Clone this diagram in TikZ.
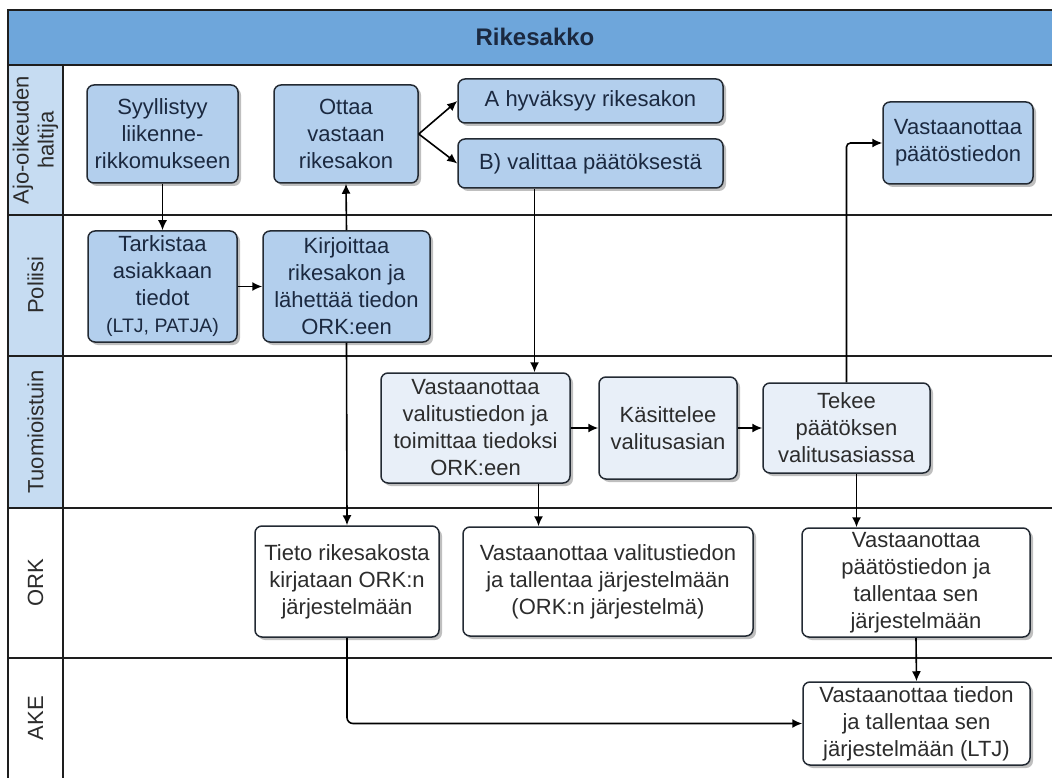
\documentclass[tikz,border=0pt]{standalone}
\usepackage{fontspec}
\setmainfont{Liberation Sans}
\usetikzlibrary{arrows.meta,shadows,calc}

\definecolor{titlebar}{HTML}{6EA6DB}
\definecolor{lanehead}{HTML}{C6DCF2}
\definecolor{boxblue}{HTML}{B3CFED}
\definecolor{boxpale}{HTML}{E8EFF8}
\definecolor{boxline}{HTML}{232A33}
\definecolor{navytext}{HTML}{1B2940}
\definecolor{darktext}{HTML}{2C2C2C}
\definecolor{frameline}{HTML}{1E1E1E}

\newcommand\boxfont{\fontsize{22}{27}\selectfont}
\newcommand\smallboxfont{\fontsize{19.5}{27}\selectfont}
\newcommand\lanefont{\fontsize{22}{25}\selectfont}

\tikzset{
  frame/.style={draw=frameline, line width=1.8pt},
  box/.style={draw=boxline, line width=1.5pt, rounded corners=7pt,
    align=center, inner sep=1pt, font=\boxfont,
    drop shadow={shadow xshift=3pt, shadow yshift=-3pt, opacity=0.25, fill=black}},
  bluebox/.style={box, fill=boxblue, text=navytext},
  palebox/.style={box, fill=boxpale, text=darktext},
  plainbox/.style={box, fill=white, text=darktext},
  lanelabel/.style={rotate=90, align=center, font=\lanefont, text=darktext},
  arr/.style={-{Latex[length=10pt,width=9pt]}, line width=1.6pt, draw=black},
}

\begin{document}
\begin{tikzpicture}[x=1pt, y=-1pt]
\useasboundingbox (0,0) rectangle (1052,778);
\fill[white] (0,0) rectangle (1052,778);

% title bar and lane header column
\fill[titlebar] (8,10) rectangle (1052,65);
\fill[lanehead] (8,65) rectangle (63,508);
\node[font=\fontsize{24}{28}\selectfont\bfseries, text=navytext] (title) at (535,37) {Rikesakko};

% swimlane frame
\draw[frame] (8,778) -- (8,10) -- (1052,10);
\draw[frame] (8,65) -- (1052,65);
\draw[frame] (63,65) -- (63,778);
\draw[frame] (8,215) -- (1052,215);
\draw[frame] (8,356) -- (1052,356);
\draw[frame] (8,508) -- (1052,508);
\draw[frame] (8,658) -- (1052,658);

% lane names
\node[lanelabel] (laneA) at (35.5,140) {Ajo-oikeuden\\haltija};
\node[lanelabel] (laneP) at (35.5,285) {Poliisi};
\node[lanelabel] (laneT) at (35.5,432) {Tuomioistuin};
\node[lanelabel] (laneO) at (35.5,583) {ORK};
\node[lanelabel] (laneK) at (35.5,718) {AKE};

% driver lane
\node[bluebox, minimum width=151pt, minimum height=98pt] (syy) at (162.5,134)
  {Syyllistyy\\liikenne-\\rikkomukseen};
\node[bluebox, minimum width=144pt, minimum height=98pt] (ottaa) at (346,134)
  {Ottaa\\vastaan\\rikesakon};
\node[bluebox, minimum width=265pt, minimum height=44pt] (hyv) at (590.5,101)
  {A hyväksyy rikesakon};
\node[bluebox, minimum width=265pt, minimum height=49pt] (val) at (590.5,163.5)
  {B) valittaa päätöksestä};
\node[bluebox, minimum width=150pt, minimum height=82pt] (vpt) at (958,143)
  {Vastaanottaa\\päätöstiedon};

% police lane
\node[bluebox, minimum width=149pt, minimum height=111pt] (tark) at (162.5,286.5)
  {Tarkistaa\\asiakkaan\\tiedot\\{\smallboxfont(LTJ, PATJA)}};
\node[bluebox, minimum width=167pt, minimum height=111pt] (kirj) at (346.5,286.5)
  {Kirjoittaa\\rikesakon ja\\lähettää tiedon\\ORK:een};

% court lane
\node[palebox, minimum width=189pt, minimum height=110pt] (vvt) at (475.5,428)
  {Vastaanottaa\\valitustiedon ja\\toimittaa tiedoksi\\ORK:een};
\node[palebox, minimum width=138pt, minimum height=102pt] (kas) at (668,428)
  {Käsittelee\\valitusasian};
\node[palebox, minimum width=167pt, minimum height=90pt] (tek) at (846.5,428)
  {Tekee\\päätöksen\\valitusasiassa};

% ORK lane
\node[plainbox, minimum width=184pt, minimum height=111pt] (tieto) at (347,581.5)
  {Tieto rikesakosta\\kirjataan ORK:n\\järjestelmään};
\node[plainbox, minimum width=290pt, minimum height=109pt] (vvo) at (608,581.5)
  {Vastaanottaa valitustiedon\\ja tallentaa järjestelmään\\(ORK:n järjestelmä)};
\node[plainbox, minimum width=228pt, minimum height=109pt] (vpo) at (916,582.5)
  {Vastaanottaa\\päätöstiedon ja\\tallentaa sen\\järjestelmään};

% AKE lane
\node[plainbox, minimum width=227pt, minimum height=83pt] (vti) at (916.5,723.5)
  {Vastaanottaa tiedon\\ja tallentaa sen\\järjestelmään (LTJ)};

% flow
\draw[arr] (syy.south) -- (tark.north);
\draw[arr] (tark.east) -- (kirj.west);
\draw[arr] (kirj.north) -- (ottaa.south);
\draw[arr] (ottaa.east) -- (hyv.west);
\draw[arr] (ottaa.east) -- (val.west);
\draw[arr] ([xshift=-56pt]val.south) -- ([xshift=-56pt]val.south |- vvt.north);
\draw[arr] (kirj.south) -- (tieto.north);
\draw[arr] (vvt.east) -- (kas.west);
\draw[arr] (kas.east) -- (tek.west);
\draw[arr] ([xshift=63pt]vvt.south) -- ([xshift=63pt]vvt.south |- vvo.north);
\draw[arr, rounded corners=4pt] (tek.north) |- (vpt.west);
\draw[arr] ([xshift=10pt]tek.south) -- ([xshift=10pt]tek.south |- vpo.north);
\draw[arr] (vpo.south) -- (vti.north);
\draw[arr, rounded corners=6pt] (tieto.south) |- (vti.west);
\end{tikzpicture}
\end{document}
